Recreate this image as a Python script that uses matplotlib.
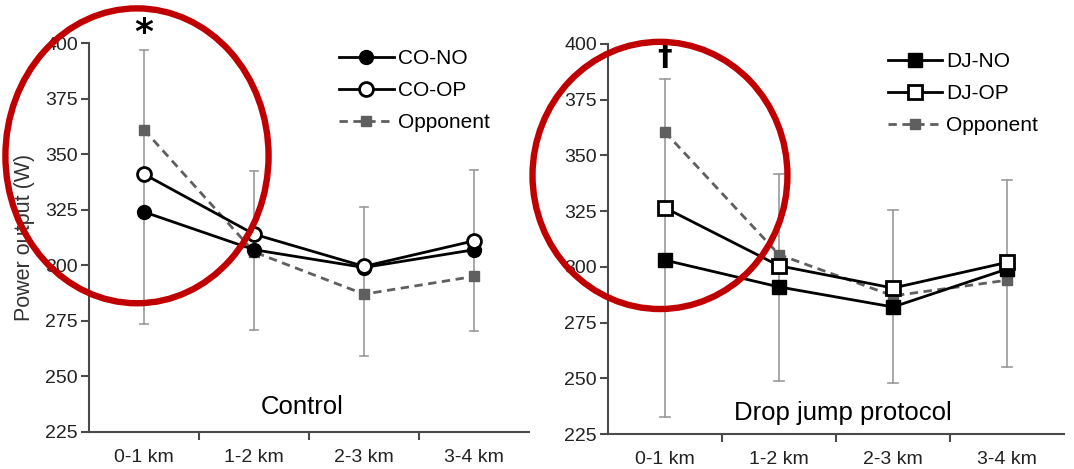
import numpy as np
import matplotlib
matplotlib.use('Agg')
import matplotlib.pyplot as plt
from matplotlib.patches import Ellipse

plt.rcParams['font.family'] = ['Liberation Sans', 'DejaVu Sans']

# ======================================================
# DATA
# ======================================================

segments = ['0-1 km', '1-2 km', '2-3 km', '3-4 km']

co_no = [324, 307, 299, 307]
co_op = [341, 314, 299.5, 311]
co_opponent = [361, 306, 287, 295]
co_err_top = [397, 342.5, 326, 343]
co_err_bottom = [273.5, 271, 259, 270.5]

dj_no = [303, 291, 282, 299]
dj_op = [326.5, 300.5, 290.5, 302]
dj_opponent = [360.5, 305.5, 287, 294]
dj_err_top = [384.5, 341.5, 325.5, 339]
dj_err_bottom = [232.5, 249, 248, 255]

y_ticks = [225, 250, 275, 300, 325, 350, 375, 400]

# ======================================================
# STYLE
# ======================================================

GRAY = '#5f5f5f'
ERR = '#9a9a9a'
AXC = '#4a4a4a'
RED = '#c00000'


def style_axis(ax):
    ax.set_xlim(-0.5, 3.5)
    ax.set_ylim(225, 400)
    ax.set_yticks(y_ticks)
    ax.set_xticks(np.arange(len(segments)))
    ax.set_xticklabels(segments)
    ax.set_xticks([0.5, 1.5, 2.5], minor=True)
    ax.tick_params(axis='x', which='major', length=0, pad=12, labelsize=14, labelcolor='#222')
    ax.tick_params(axis='x', which='minor', length=6, width=1.5, color=AXC, direction='out')
    ax.tick_params(axis='y', length=5.5, width=1.5, color=AXC, pad=2.5, labelsize=14, labelcolor='#222')
    for s in ['top', 'right']:
        ax.spines[s].set_visible(False)
    for s in ['left', 'bottom']:
        ax.spines[s].set_color(AXC)
        ax.spines[s].set_linewidth(1.5)


def draw_panel(ax, no, op, opp, etop, ebot, labels, marker, title, sign, opts):
    x = np.arange(len(segments))
    for xi, t, b in zip(x, etop, ebot):
        ax.plot([xi, xi], [b, t], color=ERR, lw=1.2, zorder=1)
        ax.plot([xi - 0.04, xi + 0.04], [t, t], color=ERR, lw=1.2, zorder=1)
        ax.plot([xi - 0.04, xi + 0.04], [b, b], color=ERR, lw=1.2, zorder=1)
    ax.plot(x, opp, '--', color=GRAY, lw=2, marker='s', ms=6.5, mfc=GRAY, mec=GRAY,
            dashes=(3, 2), label=labels[2], zorder=2)
    ax.plot(x, no, '-', color='black', lw=2, marker=marker, ms=10, mfc='black', mec='black',
            label=labels[0], zorder=3)
    ax.plot(x, op, '-', color='black', lw=2, marker=marker, ms=10, mfc='white', mec='black',
            mew=2, label=labels[1], zorder=4)
    handles, lab = ax.get_legend_handles_labels()
    order = [1, 2, 0]
    ax.legend([handles[i] for i in order], [lab[i] for i in order],
              loc='upper left', bbox_to_anchor=opts['leg'], frameon=False,
              fontsize=15, handlelength=2.6, handletextpad=0.2, labelspacing=0.62,
              numpoints=1, borderaxespad=0)
    ax.text(opts['title_x'], opts['title_y'], title, transform=ax.transAxes,
            ha='center', va='center', fontsize=18.5)
    ax.text(0, opts['sign_y'], sign, ha='center', va='center', fontsize=opts['sign_fs'],
            fontweight='bold', clip_on=False, family=['DejaVu Sans'])
    e = Ellipse(opts['c'], opts['w'], opts['h'], transform=ax.transAxes,
                fill=False, ec=RED, lw=4.6, zorder=20, clip_on=False)
    ax.add_patch(e)
    style_axis(ax)


fig = plt.figure(figsize=(10.74, 4.69), dpi=100)
ax1 = fig.add_axes([0.0829, 0.0789, 0.4097, 0.8294])
ax2 = fig.add_axes([0.5661, 0.0746, 0.4246, 0.8316])

draw_panel(ax1, co_no, co_op, co_opponent, co_err_top, co_err_bottom,
           ['CO-NO', 'CO-OP', 'Opponent'], 'o', 'Control', '*',
           {'leg': (0.55, 1.005), 'sign_y': 404.5, 'sign_fs': 26,
            'title_x': 0.484, 'title_y': 0.065,
            'c': (0.109, 0.71), 'w': 0.598, 'h': 0.758})
draw_panel(ax2, dj_no, dj_op, dj_opponent, dj_err_top, dj_err_bottom,
           ['DJ-NO', 'DJ-OP', 'Opponent'], 's', 'Drop jump protocol', '\u2020',
           {'leg': (0.595, 1.0), 'sign_y': 394, 'sign_fs': 21,
            'title_x': 0.515, 'title_y': 0.055,
            'c': (0.114, 0.663), 'w': 0.559, 'h': 0.685})

ax1.set_ylabel('Power output (W)', fontsize=15.5, color='#333', labelpad=7)

plt.savefig('out.png', dpi=100)
